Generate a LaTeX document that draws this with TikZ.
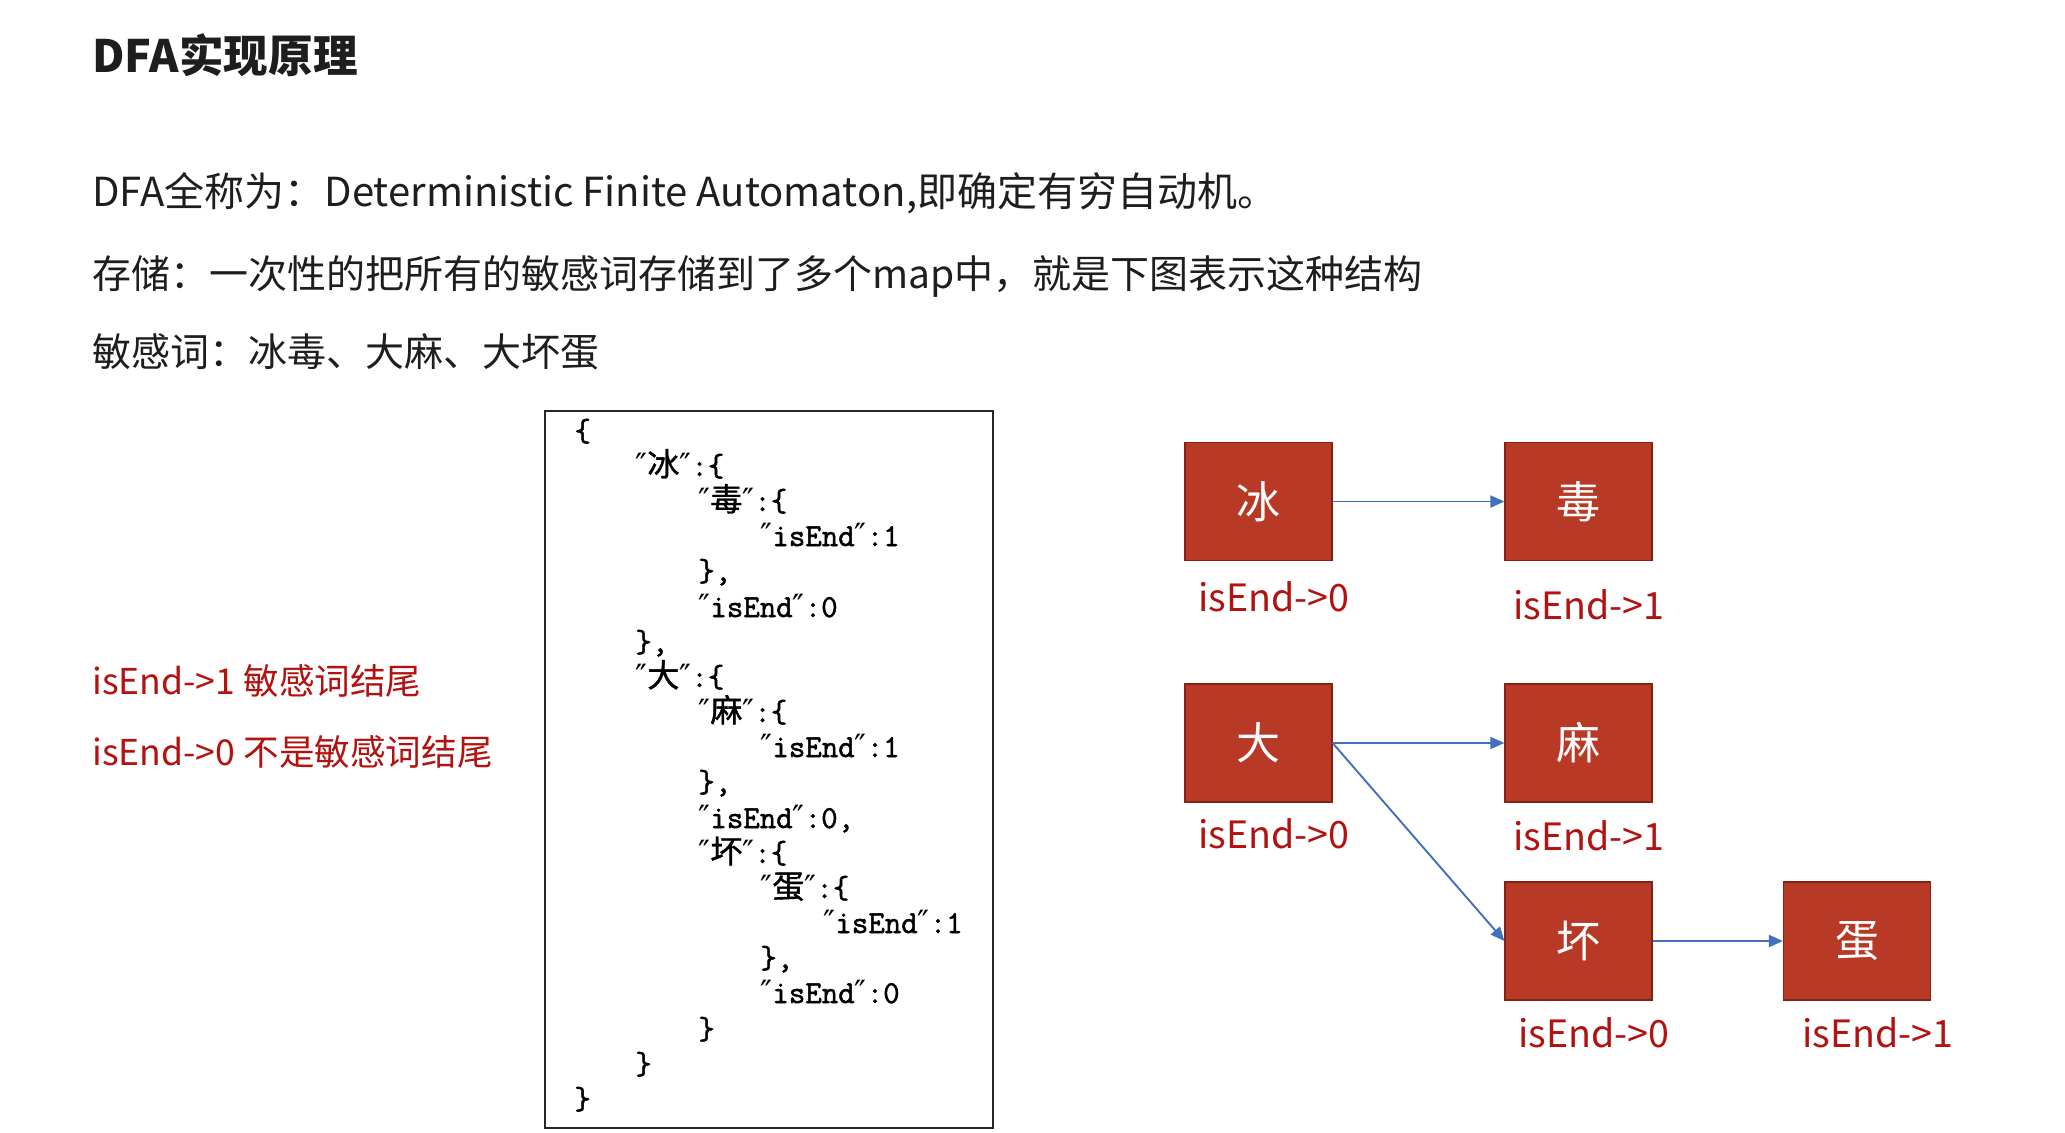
\documentclass[tikz,border=0pt]{standalone}
\usepackage{fontspec}
\setmainfont{Noto Sans CJK SC}
\newfontfamily\cjk{Noto Sans CJK SC}
\newfontfamily\cjkcode[FakeBold=1.2]{Noto Sans CJK SC}
\newfontfamily\codefont[FakeBold=1.6]{Latin Modern Mono}
\newfontfamily\dejavu{DejaVu Sans}
\usetikzlibrary{arrows.meta}
\definecolor{boxred}{RGB}{184,58,38}
\definecolor{boxborder}{RGB}{130,35,22}
\definecolor{labred}{RGB}{178,18,16}
\definecolor{arrblue}{RGB}{66,112,190}
\definecolor{ink}{RGB}{30,30,30}
\newcommand\jq{{\dejavu ″}}
\newcommand\cz[1]{{\cjkcode #1}}
\begin{document}
\begin{tikzpicture}[x=0.5pt,y=-0.5pt,
  bodytext/.style={anchor=base west, inner sep=0, text=ink, font=\fontsize{19.5}{19.5}\selectfont},
  redtext/.style={anchor=base west, inner sep=0, text=labred, font=\fontsize{17.8}{17.8}\selectfont},
  statebox/.style={draw=boxborder, line width=0.6pt, fill=boxred, minimum width=73.5pt, minimum height=59pt, inner sep=0, text=white, font=\cjk\fontsize{22}{22}\selectfont},
  endlabel/.style={anchor=base west, inner sep=0, text=labred, font=\fontsize{18.8}{18.8}\selectfont},
  codeline/.style={anchor=base west, inner sep=0, text=black, font=\codefont\fontsize{16}{16}\selectfont},
  arr/.style={draw=arrblue, line width=0.95pt, -{Triangle[length=7pt,width=6pt]}}
]
\fill[white] (0,0) rectangle (2065,1132);
\useasboundingbox (0,0) rectangle (2065,1132);

% title and text
\node[bodytext, font=\bfseries\fontsize{22.3}{22.3}\selectfont] (title) at (92,72) {DFA实现原理};
\node[bodytext, font=\fontsize{20}{20}\selectfont] (t1) at (92,206) {DFA全称为：Deterministic Finite Automaton,即确定有穷自动机。};
\node[bodytext] (t2) at (92,288) {存储：一次性的把所有的敏感词存储到了多个map中，就是下图表示这种结构};
\node[bodytext] (t3) at (92,366) {敏感词：冰毒、大麻、大坏蛋};

\node[redtext] (r1) at (92,694) {isEnd->1 敏感词结尾};
\node[redtext] (r2) at (92,765) {isEnd->0 不是敏感词结尾};

% code box
\node[draw=black!85, line width=0.75pt, anchor=north west, minimum width=224pt, minimum height=358.5pt, inner sep=0] (codebox) at (544,410) {};
\node[codeline] (c1) at (574,441) {\{};
\node[codeline] (c2) at (635,476) {\jq\cz{冰}\jq:\{};
\node[codeline] (c3) at (698,511) {\jq\cz{毒}\jq:\{};
\node[codeline] (c4) at (760,546) {\jq isEnd\jq:1};
\node[codeline] (c5) at (698,581) {\},};
\node[codeline] (c6) at (698,617) {\jq isEnd\jq:0};
\node[codeline] (c7) at (635,652) {\},};
\node[codeline] (c8) at (635,687) {\jq\cz{大}\jq:\{};
\node[codeline] (c9) at (698,722) {\jq\cz{麻}\jq:\{};
\node[codeline] (c10) at (760,757) {\jq isEnd\jq:1};
\node[codeline] (c11) at (698,792) {\},};
\node[codeline] (c12) at (698,828) {\jq isEnd\jq:0,};
\node[codeline] (c13) at (698,863) {\jq\cz{坏}\jq:\{};
\node[codeline] (c14) at (760,898) {\jq\cz{蛋}\jq:\{};
\node[codeline] (c15) at (823,933) {\jq isEnd\jq:1};
\node[codeline] (c16) at (760,968) {\},};
\node[codeline] (c17) at (760,1003) {\jq isEnd\jq:0};
\node[codeline] (c18) at (698,1039) {\}};
\node[codeline] (c19) at (635,1074) {\}};
\node[codeline] (c20) at (574,1109) {\}};

% state boxes
\node[statebox] (bing) at (1258.5,501.5) {冰};
\node[statebox] (du)   at (1578.5,501.5) {毒};
\node[statebox] (da)   at (1258.5,743) {大};
\node[statebox] (ma)   at (1578.5,743) {麻};
\node[statebox] (huai) at (1578.5,941) {坏};
\node[statebox] (dan)  at (1857,941) {蛋};

% labels
\node[endlabel] (lbing) at (1198,611) {isEnd->0};
\node[endlabel] (ldu)   at (1513,619) {isEnd->1};
\node[endlabel] (lda)   at (1198,848) {isEnd->0};
\node[endlabel] (lma)   at (1513,850) {isEnd->1};
\node[endlabel] (lhuai) at (1518,1047) {isEnd->0};
\node[endlabel] (ldan)  at (1802,1047) {isEnd->1};

% arrows
\draw[arr] (bing.east) -- (du.west);
\draw[arr] (da.east) -- (ma.west);
\draw[arr] (da.east) -- (huai.west);
\draw[arr] (huai.east) -- (dan.west);
\end{tikzpicture}
\end{document}
